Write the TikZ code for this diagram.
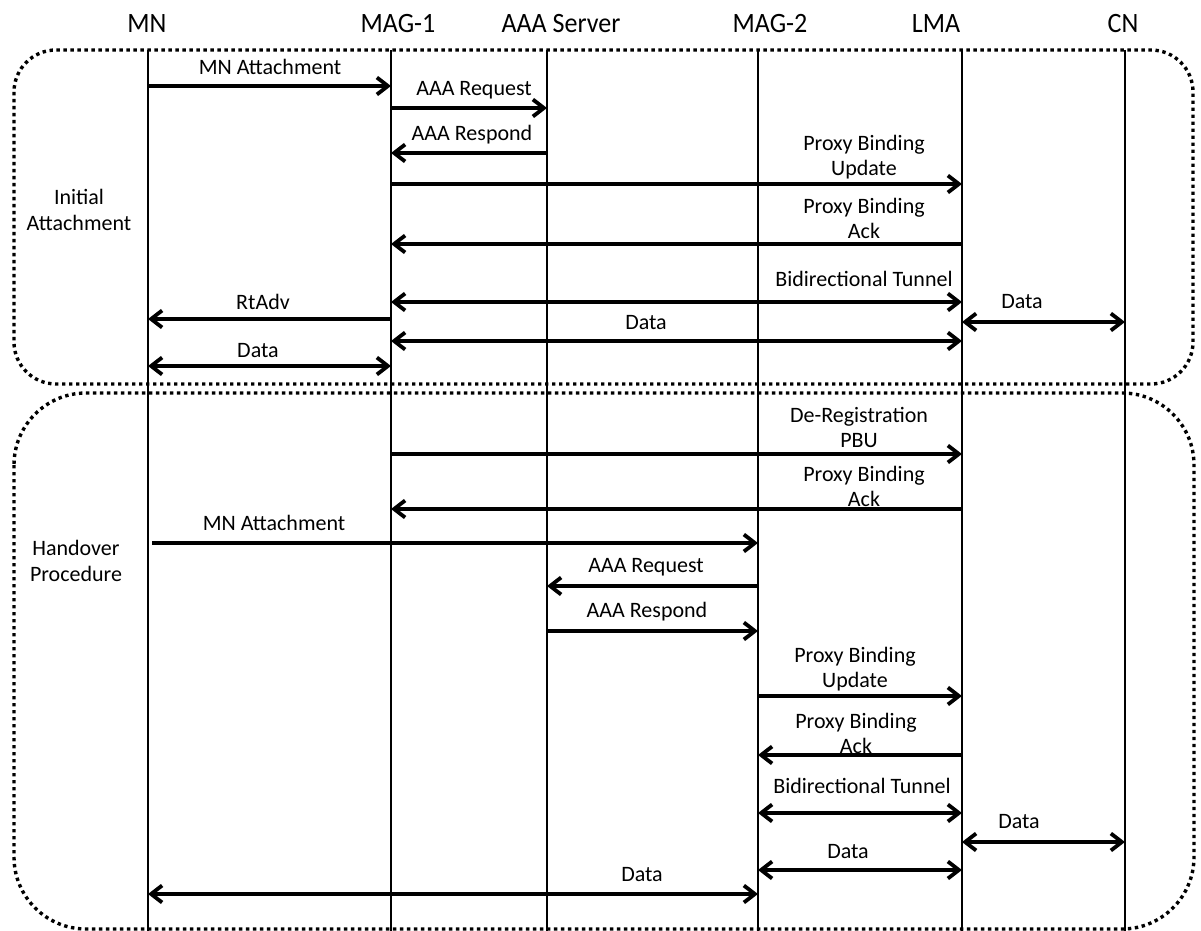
\documentclass[tikz,border=0pt]{standalone}
\usepackage{fontspec}
\setmainfont{Carlito}
\newfontfamily\headfont[FakeStretch=0.93]{Carlito}
\usetikzlibrary{arrows.meta}

\begin{document}
\begin{tikzpicture}[
  x=0.5pt,y=-0.5pt,
  >={Straight Barb[length=5.5pt,width=8.5pt]},
  header/.style={font=\headfont\fontsize{14}{16}\selectfont,anchor=base},
  msglabel/.style={align=center,font=\fontsize{11}{12.5}\selectfont,inner sep=0pt},
  phaselabel/.style={align=center,font=\fontsize{11}{13}\selectfont,inner sep=0pt},
  lifeline/.style={line width=0.7pt},
  phasebox/.style={line width=1.7pt,dash pattern=on 1.7pt off 1.8pt},
  sig/.style={line width=1.9pt}
]
\useasboundingbox (0,0) rectangle (1201,931);
\node[header] (hmn) at (147,33) {MN};
\node[header] (hmag1) at (398,33) {MAG-1};
\node[header] (haaa) at (561,33) {AAA Server};
\node[header] (hmag2) at (770,33) {MAG-2};
\node[header] (hlma) at (936,33) {LMA};
\node[header] (hcn) at (1123,33) {CN};
\coordinate (mn) at (148,50);   \coordinate (mn-end) at (148,931);
\coordinate (mag1) at (391,50); \coordinate (mag1-end) at (391,931);
\coordinate (aaa) at (547,50);  \coordinate (aaa-end) at (547,931);
\coordinate (mag2) at (758,50); \coordinate (mag2-end) at (758,931);
\coordinate (lma) at (962,50);  \coordinate (lma-end) at (962,931);
\coordinate (cn) at (1125,50);  \coordinate (cn-end) at (1125,931);
\foreach \p in {mn,mag1,aaa,mag2,lma,cn}
  \draw[lifeline] (\p) -- (\p-end);
\draw[phasebox,rounded corners=21pt] (14,50) rectangle (1193,384);
\draw[phasebox,rounded corners=36pt] (14,393) rectangle (1194,929);
\node[phaselabel] (initial) at (79,210) {Initial\\Attachment};
\node[phaselabel] (handover) at (76,561) {Handover\\Procedure};
\draw[sig,->] (mn |- 0,86) -- (mag1 |- 0,86);
\node[msglabel] (l1) at (270,67) {MN Attachment};
\draw[sig,->] (mag1 |- 0,108) -- (aaa |- 0,108);
\node[msglabel] (l2) at (474,90) {AAA Request};
\draw[sig,->] (aaa |- 0,153) -- (mag1 |- 0,153);
\node[msglabel] (l3) at (472,135) {AAA Respond};
\draw[sig,->] (mag1 |- 0,184) -- (lma |- 0,184);
\node[msglabel] (l4) at (864,157) {Proxy Binding\\Update};
\draw[sig,->] (lma |- 0,244) -- (mag1 |- 0,244);
\node[msglabel] (l5) at (864,218) {Proxy Binding\\Ack};
\draw[sig,<->] (mag1 |- 0,302) -- (lma |- 0,302);
\node[msglabel] (l6) at (864,279) {Bidirectional Tunnel};
\draw[sig,->] (mag1 |- 0,319) -- (mn |- 0,319);
\node[msglabel] (l7) at (263,302) {RtAdv};
\draw[sig,<->] (lma |- 0,322) -- (cn |- 0,322);
\node[msglabel] (l8) at (1022,302) {Data};
\draw[sig,<->] (mag1 |- 0,341) -- (lma |- 0,341);
\node[msglabel] (l9) at (646,323) {Data};
\draw[sig,<->] (mn |- 0,366) -- (mag1 |- 0,366);
\node[msglabel] (l10) at (258,351) {Data};
\draw[sig,->] (mag1 |- 0,454) -- (lma |- 0,454);
\node[msglabel] (l11) at (859,427) {De-Registration\\PBU};
\draw[sig,->] (lma |- 0,509) -- (mag1 |- 0,509);
\node[msglabel] (l12) at (864,486) {Proxy Binding\\Ack};
\draw[sig,->,shorten <=2pt] (mn |- 0,543) -- (mag2 |- 0,543);
\node[msglabel] (l13) at (274,523) {MN Attachment};
\draw[sig,->] (mag2 |- 0,586) -- (aaa |- 0,586);
\node[msglabel] (l14) at (646,567) {AAA Request};
\draw[sig,->] (aaa |- 0,631) -- (mag2 |- 0,631);
\node[msglabel] (l15) at (647,612) {AAA Respond};
\draw[sig,->] (mag2 |- 0,696) -- (lma |- 0,696);
\node[msglabel] (l16) at (855,669) {Proxy Binding\\Update};
\draw[sig,->] (lma |- 0,755) -- (mag2 |- 0,755);
\node[msglabel] (l17) at (856,733) {Proxy Binding\\Ack};
\draw[sig,<->] (mag2 |- 0,813) -- (lma |- 0,813);
\node[msglabel] (l18) at (862,786) {Bidirectional Tunnel};
\draw[sig,<->] (lma |- 0,842) -- (cn |- 0,842);
\node[msglabel] (l19) at (1019,822) {Data};
\draw[sig,<->] (mag2 |- 0,870) -- (lma |- 0,870);
\node[msglabel] (l20) at (848,852) {Data};
\draw[sig,<->] (mn |- 0,894) -- (mag2 |- 0,894);
\node[msglabel] (l21) at (642,875) {Data};
\end{tikzpicture}
\end{document}
